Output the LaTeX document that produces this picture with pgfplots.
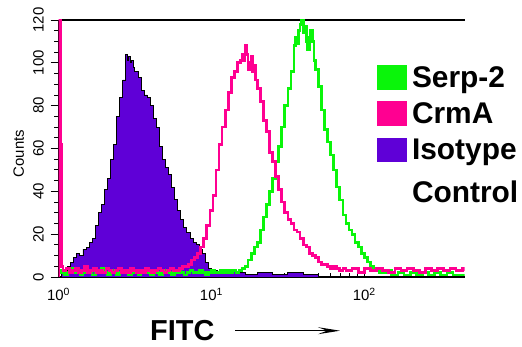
\documentclass[border=0pt]{standalone}
\usepackage{pgfplots}
\pgfplotsset{compat=1.18}
\usepackage{pgfplotstable}
\usepackage{fontspec}
\setmainfont{Liberation Sans}
\usetikzlibrary{arrows.meta}
\definecolor{serp}{RGB}{10,245,10}
\definecolor{crma}{RGB}{255,0,145}
\definecolor{iso}{RGB}{95,0,215}

\pgfplotstableread{
L c
0.00 0
0.02 2
0.04 3
0.06 5
0.08 7
0.10 9
0.12 11
0.14 10
0.16 13
0.18 14
0.20 16
0.22 18
0.24 24
0.26 30
0.28 34
0.30 41
0.32 46
0.34 55
0.36 62
0.38 75
0.40 84
0.42 92
0.44 104
0.45 101
0.46 103
0.47 100
0.48 101
0.49 98
0.50 96
0.52 93
0.54 87
0.56 85
0.58 84
0.60 80
0.62 74
0.64 70
0.66 61
0.68 55
0.70 51
0.72 48
0.74 42
0.76 36
0.78 31
0.80 27
0.82 23
0.84 21
0.86 18
0.88 16
0.90 15
0.92 13
0.94 11
0.96 7
0.98 4
1.00 3
1.04 2
1.10 3
1.16 2
1.22 1
1.30 2
1.40 1
1.50 2
1.60 1
1.70 0
}\isodata

\pgfplotstableread{
L c
0.00 2
0.02 3
0.04 1
0.06 2
0.08 4
0.10 2
0.12 3
0.14 1
0.16 2
0.18 3
0.20 2
0.22 1
0.24 3
0.26 2
0.28 4
0.30 2
0.32 1
0.34 2
0.36 3
0.38 1
0.40 2
0.42 3
0.44 2
0.46 1
0.48 2
0.50 3
0.52 1
0.54 2
0.56 2
0.58 3
0.60 1
0.62 2
0.64 2
0.66 1
0.68 3
0.70 2
0.72 2
0.74 1
0.76 2
0.78 3
0.80 2
0.82 1
0.84 2
0.86 3
0.88 2
0.90 2
0.92 3
0.94 2
0.96 1
0.98 2
1.00 3
1.02 2
1.04 2
1.06 3
1.08 2
1.10 3
1.12 2
1.14 3
1.16 2
1.18 3
1.20 4
1.22 5
1.24 8
1.26 11
1.28 14
1.30 16
1.32 22
1.34 28
1.36 34
1.38 40
1.40 46
1.42 54
1.44 61
1.46 70
1.48 80
1.50 88
1.52 96
1.54 108
1.55 112
1.56 109
1.57 115
1.58 118
1.59 120
1.60 114
1.61 117
1.62 110
1.63 106
1.64 112
1.65 115
1.66 110
1.67 101
1.68 97
1.70 89
1.72 78
1.74 69
1.76 63
1.78 57
1.80 50
1.82 42
1.84 36
1.86 29
1.88 25
1.90 22
1.92 20
1.94 16
1.96 14
1.98 11
2.00 9
2.02 7
2.04 5
2.06 4
2.08 3
2.10 2
2.14 3
2.18 1
2.22 2
2.26 1
2.30 2
2.34 1
2.38 2
2.42 1
2.46 2
2.50 1
2.54 2
2.58 1
2.62 1
2.66 1
}\serpdata

\pgfplotstableread{
L c
0.000 0
0.000 130
0.012 62
0.020 5
0.03 3
0.05 4
0.07 2
0.09 3
0.11 4
0.13 2
0.15 3
0.17 5
0.19 2
0.21 3
0.23 4
0.25 2
0.27 3
0.29 2
0.31 4
0.33 3
0.35 2
0.37 3
0.39 4
0.41 2
0.43 3
0.45 2
0.47 4
0.49 3
0.51 2
0.53 3
0.55 2
0.57 4
0.59 3
0.61 2
0.63 3
0.65 4
0.67 3
0.69 2
0.71 3
0.73 4
0.75 3
0.77 3
0.79 4
0.81 5
0.83 5
0.85 6
0.87 8
0.89 9
0.91 11
0.93 14
0.95 18
0.97 24
0.99 31
1.01 38
1.03 50
1.05 62
1.07 70
1.09 78
1.11 86
1.13 93
1.15 96
1.17 100
1.19 101
1.20 104
1.21 101
1.22 108
1.23 104
1.24 97
1.25 100
1.26 103
1.27 96
1.28 99
1.29 92
1.30 88
1.32 82
1.34 73
1.36 68
1.38 58
1.40 54
1.42 47
1.44 41
1.46 35
1.48 30
1.50 27
1.52 25
1.54 22
1.56 21
1.58 18
1.60 15
1.62 14
1.64 11
1.66 10
1.68 9
1.70 7
1.72 6
1.74 6
1.76 5
1.78 4
1.80 5
1.82 4
1.84 3
1.86 4
1.88 3
1.92 4
1.96 2
2.00 4
2.04 3
2.08 4
2.12 3
2.16 2
2.20 4
2.24 3
2.28 4
2.32 3
2.36 2
2.40 4
2.44 3
2.48 4
2.52 3
2.56 4
2.60 3
2.64 4
2.66 3
}\crmadata

\begin{document}
\begin{tikzpicture}
\useasboundingbox (-58.5bp,-70bp) rectangle (463.5bp,277bp);
\begin{axis}[
  scale only axis, width=406bp, height=257bp,
  xmode=log, xmin=1, xmax=452, ymin=0, ymax=120,
  axis y line*=left,
  xtick pos=bottom, ytick pos=left,
  axis line style={line width=1.1bp},
  xtick={1,10,100},
  xticklabels={10\textsuperscript{0},10\textsuperscript{1},10\textsuperscript{2}},
  ytick={0,20,40,60,80,100,120},
  minor y tick num=3,
  xtick align=inside, ytick align=outside,
  major tick length=8bp, minor tick length=4.5bp,
  every tick/.style={black, line width=0.9bp},
  /pgf/number format/assume math mode=true,
  tick label style={font=\fontsize{15}{15}\selectfont},
  xticklabel style={anchor=north, inner sep=0pt, yshift=-11bp},
  yticklabel style={rotate=90, anchor=south, inner xsep=0pt, inner ysep=6.5bp},
  ylabel={Counts},
  ylabel style={at={(axis description cs:-0.098,0.48)}, anchor=center, font=\fontsize{15}{15}\selectfont},
  legend cell align=left,
  legend style={at={(rel axis cs:0.783,0.825)}, anchor=north west, draw=none, fill=none,
    inner sep=0pt, column sep=6bp, row sep=9bp,
    font=\bfseries\fontsize{30}{35}\selectfont,
    nodes={inner sep=0pt, text height=21bp, text depth=5bp}},
]
\addlegendimage{legend image code/.code={\fill[serp] (0bp,-9.5bp) rectangle (29bp,14bp);}}
\addlegendentry{Serp-2}
\addlegendimage{legend image code/.code={\fill[crma] (0bp,-9.5bp) rectangle (29bp,14bp);}}
\addlegendentry{CrmA}
\addlegendimage{legend image code/.code={\fill[iso] (0bp,-9.5bp) rectangle (29bp,14bp);}}
\addlegendentry{Isotype}
\addlegendimage{empty legend}
\addlegendentry[text height=29bp]{Control}

\addplot[const plot, draw=black, line width=0.9bp, fill=iso, forget plot]
  table[x expr={10^\thisrow{L}}, y=c] {\isodata} \closedcycle;
\addplot[const plot, draw=serp, line width=2.7bp, forget plot]
  table[x expr={10^\thisrow{L}}, y=c] {\serpdata};
\addplot[const plot, draw=crma, line width=2.7bp, forget plot]
  table[x expr={10^\thisrow{L}}, y=c] {\crmadata};
\end{axis}
\node[anchor=base west, font=\bfseries\fontsize{29}{29}\selectfont, inner sep=0pt] at (91.5bp,-63.7bp) {FITC};
\draw[line width=1bp, -{Stealth[length=22bp, width=7bp, inset=9bp]}] (176.5bp,-53.7bp) -- (281.5bp,-53.7bp);
\end{tikzpicture}
\end{document}
